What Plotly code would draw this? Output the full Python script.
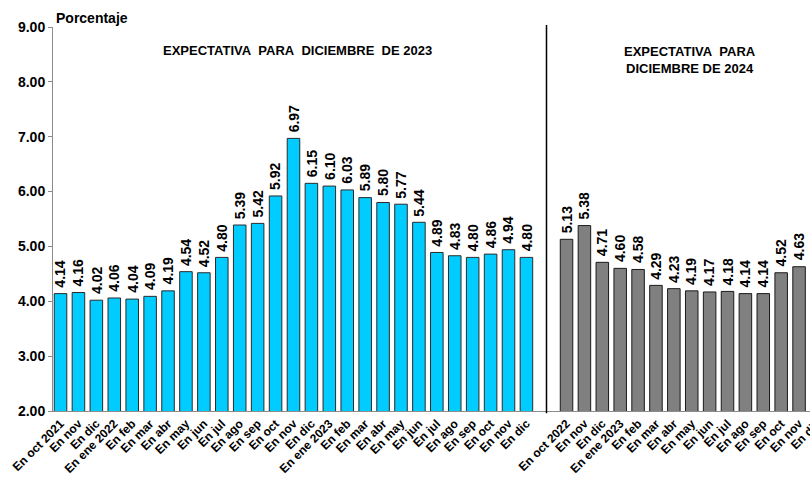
import plotly.graph_objects as go

# ---- data ----
labels_2023 = ["En oct 2021", "En nov", "En dic", "En ene 2022", "En feb", "En mar", "En abr",
               "En may", "En jun", "En jul", "En ago", "En sep", "En oct", "En nov", "En dic",
               "En ene 2023", "En feb", "En mar", "En abr", "En may", "En jun", "En jul",
               "En ago", "En sep", "En oct", "En nov", "En dic"]
values_2023 = [4.14, 4.16, 4.02, 4.06, 4.04, 4.09, 4.19, 4.54, 4.52, 4.80, 5.39, 5.42, 5.92,
               6.97, 6.15, 6.10, 6.03, 5.89, 5.80, 5.77, 5.44, 4.89, 4.83, 4.80, 4.86, 4.94, 4.80]

labels_2024 = ["En oct 2022", "En nov", "En dic", "En ene 2023", "En feb", "En mar", "En abr",
               "En may", "En jun", "En jul", "En ago", "En sep", "En oct", "En nov", "En dic"]
values_2024 = [5.13, 5.38, 4.71, 4.60, 4.58, 4.29, 4.23, 4.19, 4.17, 4.18, 4.14, 4.14, 4.52,
               4.63, None]  # last bar lies beyond the visible edge

y_ticks = [2, 3, 4, 5, 6, 7, 8, 9]

FONT = "Liberation Sans, Arial, sans-serif"
W, H = 830, 477
ML, MT, MB = 53, 27, 66
SPLIT_PX = 546.5

x_left = list(range(len(values_2023)))
x_right = list(range(len(values_2024)))

fig = go.Figure()
fig.add_trace(go.Bar(
    x=x_left, y=values_2023, xaxis="x", yaxis="y",
    marker=dict(color="#00CCFF", line=dict(color="#2b2b2b", width=1)),
    hoverinfo="skip", showlegend=False,
))
fig.add_trace(go.Bar(
    x=x_right, y=values_2024, xaxis="x2", yaxis="y",
    marker=dict(color="#808080", line=dict(color="#1a1a1a", width=1)),
    hoverinfo="skip", showlegend=False,
))

plot_w = W - ML
split = (SPLIT_PX - ML) / plot_w

# value labels above the bars (rotated), placed through the data axes
value_labels = []
for xref, xs, vals in (("x", x_left, values_2023), ("x2", x_right, values_2024)):
    for xi, v in zip(xs, vals):
        if v is None:
            continue
        value_labels.append(dict(
            x=xi, y=v, xref=xref, yref="y", text=f"<b>{v:.2f}</b>",
            textangle=-90, xanchor="center", yanchor="bottom", yshift=5,
            showarrow=False, borderpad=0,
            font=dict(family=FONT, size=14, color="black")))

tickfont_x = dict(family=FONT, size=12, color="black", weight="bold")
fig.update_layout(
    width=W, height=H,
    margin=dict(l=ML, r=0, t=MT, b=MB, pad=0),
    paper_bgcolor="white", plot_bgcolor="white",
    bargap=0.3,
    xaxis=dict(domain=[0, split], range=[-0.42, 27.12],
               tickmode="array", tickvals=x_left, ticktext=labels_2023,
               tickangle=-45, tickfont=tickfont_x, ticks="",
               showline=True, linecolor="#8c8c8c", linewidth=1,
               showgrid=False, zeroline=False, fixedrange=True),
    xaxis2=dict(domain=[split, 1], range=[-1.12, 14.73], anchor="y",
                tickmode="array", tickvals=x_right, ticktext=labels_2024,
                tickangle=-45, tickfont=tickfont_x, ticks="",
                showline=True, linecolor="#8c8c8c", linewidth=1,
                showgrid=False, zeroline=False, fixedrange=True),
    yaxis=dict(range=[2, 9], tickmode="array", tickvals=y_ticks, tickformat=".2f",
               tickfont=dict(family=FONT, size=14, color="black", weight="bold"),
               ticks="outside", ticklen=4, tickcolor="#8c8c8c",
               showline=True, linecolor="#8c8c8c", linewidth=1,
               showgrid=False, zeroline=False, fixedrange=True),
    shapes=[dict(type="line", xref="x2 domain", yref="paper", x0=0, x1=0,
                 y0=-0.006, y1=1.005, line=dict(color="black", width=1.5))],
    annotations=[
        dict(text="<b>Porcentaje</b>", xref="x domain", yref="paper", x=0, y=1,
             xanchor="left", yanchor="bottom", xshift=1, yshift=-1, showarrow=False,
             font=dict(family=FONT, size=14, color="black")),
        dict(text="<b>EXPECTATIVA&nbsp;&nbsp;PARA&nbsp;&nbsp;DICIEMBRE&nbsp;&nbsp;DE 2023</b>",
             xref="x domain", yref="paper", x=0.496, y=1 - 23 / (H - MT - MB),
             xanchor="center", yanchor="middle", showarrow=False,
             font=dict(family=FONT, size=13, color="black")),
        dict(text="<b>EXPECTATIVA&nbsp;&nbsp;PARA<br>DICIEMBRE DE 2024</b>",
             xref="x2", yref="paper", x=6.9, y=1 - 33 / (H - MT - MB),
             xanchor="center", yanchor="middle", showarrow=False,
             font=dict(family=FONT, size=13, color="black")),
    ] + value_labels,
)

fig.write_html("out.html", config={"displayModeBar": False},
               post_script="document.body.style.margin='0';document.body.style.overflow='hidden';")
